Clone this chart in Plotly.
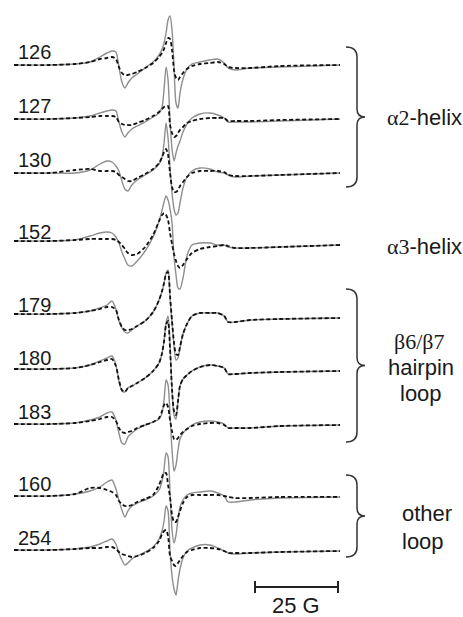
import plotly.graph_objects as go

# Field axis (Gauss, relative) shared by all spectra
field_G = [0.0, 10.8, 18.4, 22.9, 25.9, 28.0, 29.5, 30.7, 31.6, 32.5, 33.4, 34.3, 35.5, 37.1,
           39.5, 41.9, 43.7, 44.6, 45.2, 45.8, 46.4, 47.0, 47.6, 48.2, 48.8, 49.4, 50.0, 50.9,
           52.1, 53.6, 56.0, 59.0, 61.4, 63.3, 64.5, 66.6, 71.1, 80.1, 98.2]

labels = ["126", "127", "130", "152", "179", "180", "183", "160", "254"]
stack_offset = [-65, -119, -173, -245, -318, -371, -425, -497, -551]

# experimental (solid grey)
exp_126 = [0,0,1,3,8,12,14,13,-2,-17,-23,-18,-13,-9,-3,3,10,16,22,32,45,49,35,-2,-38,-43,-28,-14,-4,1,3,5,6,2,-3,-5,-3,-2,0]
exp_127 = [0,0,1,3,6,8,9,8,-3,-13,-18,-14,-10,-7,-3,2,6,12,30,52,39,-2,-30,-42,-34,-27,-22,-13,-5,1,5,6,4,1,-3,-3,-3,-2,0]
exp_130 = [0,0,0,3,9,12,11,7,2,-8,-16,-18,-12,-7,-2,3,9,16,30,50,35,6,-20,-36,-42,-40,-30,-15,-4,2,5,4,1,0,-2,-4,-3,-2,0]
exp_152 = [4,4,5,9,12,13,12,8,2,-7,-14,-20,-21,-16,-6,8,24,35,43,49,45,36,22,-12,-30,-43,-44,-33,-11,0,2,2,0,0,-2,-3,-3,-2,0]
exp_179 = [4,4,5,7,10,13,17,9,-3,-10,-14,-15,-12,-8,-3,6,18,27,35,45,48,20,-5,-28,-42,-40,-30,-16,-6,2,5,5,5,2,-4,-4,-2,-1,0]
exp_180 = [2,2,3,6,10,13,15,6,-10,-20,-21,-17,-15,-12,-7,0,8,18,30,48,55,25,-20,-44,-48,-30,-15,-8,-4,0,4,6,5,3,-3,-3,-2,-1,0]
exp_183 = [1,1,2,5,8,12,13,5,-8,-18,-19,-12,-8,-4,0,3,6,12,25,45,40,10,-25,-46,-40,-25,-14,-8,-4,0,3,4,3,1,-3,-3,-3,-1,0]
exp_160 = [1,1,3,6,10,15,17,8,-3,-13,-20,-14,-9,-6,-3,1,7,16,28,44,40,5,-33,-46,-38,-22,-10,-3,2,4,5,6,4,1,-5,-5,-3,-1,0]
exp_254 = [1,1,2,4,7,10,12,7,-2,-9,-14,-12,-8,-5,-1,4,12,20,30,45,40,0,-25,-38,-44,-30,-18,-7,0,3,6,6,3,0,-2,-3,-2,-1,0]

# simulation (dashed black)
sim_126 = [0,0,1,3,6,7,8,6,-2,-8,-10,-10,-9,-7,-3,2,8,12,16,22,27,26,15,-5,-13,-15,-12,-8,-4,-1,1,2,3,1,-2,-3,-3,-1,0]
sim_127 = [0,0,1,2,3,3,3,2,-3,-5,-6,-6,-6,-4,-1,3,7,10,12,13,13,-6,-14,-18,-17,-14,-11,-8,-4,-2,0,1,1,1,-2,-2,-2,-1,0]
sim_130 = [0,0,3,4,2,2,2,1,-2,-4,-6,-8,-8,-5,-1,4,10,16,21,24,18,0,-14,-19,-19,-17,-13,-9,-4,0,2,2,2,1,-2,-3,-3,-2,0]
sim_152 = [4,4,5,6,6,6,6,5,3,0,-4,-8,-10,-9,-2,10,24,30,32,30,25,12,1,-9,-16,-21,-23,-20,-14,-8,-4,-2,-1,0,-1,-3,-3,-2,0]
sim_179 = [4,4,5,7,9,11,11,8,-2,-9,-12,-12,-11,-8,-3,6,18,27,35,44,46,22,-3,-25,-36,-37,-29,-16,-6,2,5,5,5,2,-4,-4,-2,-1,0]
sim_180 = [2,2,3,6,9,11,12,5,-9,-19,-21,-17,-15,-12,-7,0,8,18,30,46,50,22,-18,-40,-44,-30,-15,-8,-4,0,4,6,5,3,-3,-3,-2,-1,0]
sim_183 = [1,1,2,4,6,8,8,4,-3,-7,-8,-7,-6,-3,0,3,7,14,20,22,18,5,-6,-14,-15,-13,-10,-7,-4,-1,1,2,2,0,-3,-3,-3,-1,0]
sim_160 = [1,1,3,9,9,7,5,2,-4,-7,-9,-9,-8,-5,-2,2,12,20,24,24,12,0,-18,-25,-25,-20,-14,-6,0,2,2,2,2,1,0,-1,-1,0,0]
sim_254 = [1,1,2,3,3,4,4,2,-1,-3,-4,-5,-6,-5,-2,3,10,17,20,21,15,-5,-10,-14,-15,-12,-9,-5,-1,1,3,3,2,0,-2,-2,-2,-1,0]

exp_all = [exp_126, exp_127, exp_130, exp_152, exp_179, exp_180, exp_183, exp_160, exp_254]
sim_all = [sim_126, sim_127, sim_130, sim_152, sim_179, sim_180, sim_183, sim_160, sim_254]

scale_bar_G = 25
scale_bar_start_G = 72.6

W, H = 463, 617
def px(x):
    return x / W
def py(y):
    return 1 - y / H

fig = go.Figure()
for off, e in zip(stack_offset, exp_all):
    fig.add_trace(go.Scatter(x=field_G, y=[off + v for v in e], mode="lines",
                             line=dict(color="#8e8e8e", width=1.4, shape="spline", smoothing=0.7),
                             showlegend=False, hoverinfo="skip"))
for off, s in zip(stack_offset, sim_all):
    fig.add_trace(go.Scatter(x=field_G, y=[off + v for v in s], mode="lines",
                             line=dict(color="#111111", width=1.8, dash="4px,2.5px", shape="spline", smoothing=0.7),
                             showlegend=False, hoverinfo="skip"))

font_l = dict(family="Liberation Sans, Arial", size=20, color="#1a1a1a")
font_r = dict(family="Liberation Sans, Arial", size=22, color="#1a1a1a")
ann = []
for lab, off in zip(labels, stack_offset):
    ann.append(dict(x=px(16), y=py(-off - 13), xref="paper", yref="paper", text=lab,
                    showarrow=False, xanchor="left", yanchor="middle", font=font_l))

serif = "Liberation Serif, Times New Roman"
right_texts = [
    (f'<span style="font-family:{serif}">α2</span>-helix', 385, 118, "left"),
    (f'<span style="font-family:{serif}">α3</span>-helix', 385, 246, "left"),
    (f'<span style="font-family:{serif}">β6/β7</span>', 419, 341, "center"),
    ("hairpin", 421, 367, "center"),
    ("loop", 421, 393, "center"),
    ("other", 400, 513, "left"),
    ("loop", 400, 541, "left"),
    ("25 G", 296, 605, "center"),
]
for t, x, y, anc in right_texts:
    ann.append(dict(x=px(x), y=py(y), xref="paper", yref="paper", text=t, showarrow=False,
                    xanchor=anc, yanchor="middle", font=font_r))

def brace(top, bot, x0=346, x1=357, x2=365):
    mid = (top + bot) / 2
    pts = (f"M {px(x0)},{py(top)} Q {px(x1)},{py(top)} {px(x1)},{py(top+10)} "
           f"L {px(x1)},{py(mid-8)} Q {px(x1)},{py(mid)} {px(x2)},{py(mid)} "
           f"Q {px(x1)},{py(mid)} {px(x1)},{py(mid+8)} "
           f"L {px(x1)},{py(bot-10)} Q {px(x1)},{py(bot)} {px(x0)},{py(bot)}")
    return dict(type="path", path=pts, xref="paper", yref="paper",
                line=dict(color="#333333", width=1.5))

shapes = [brace(47, 187), brace(289, 442), brace(475, 557)]
# scale bar in data units
yb = -587
shapes.append(dict(type="line", x0=scale_bar_start_G, x1=scale_bar_start_G + scale_bar_G, y0=yb, y1=yb,
                   xref="x", yref="y", line=dict(color="#222", width=2)))
for xe in (scale_bar_start_G, scale_bar_start_G + scale_bar_G):
    shapes.append(dict(type="line", x0=xe, x1=xe, y0=yb - 6, y1=yb + 6, xref="x", yref="y",
                       line=dict(color="#222", width=2)))

fig.update_layout(width=W, height=H, margin=dict(l=0, r=0, t=0, b=0),
                  paper_bgcolor="white", plot_bgcolor="white",
                  xaxis=dict(range=[-14 / 3.32, (W - 14) / 3.32], visible=False),
                  yaxis=dict(range=[-H, 0], visible=False),
                  annotations=ann, shapes=shapes)
fig.write_html("out.html")
